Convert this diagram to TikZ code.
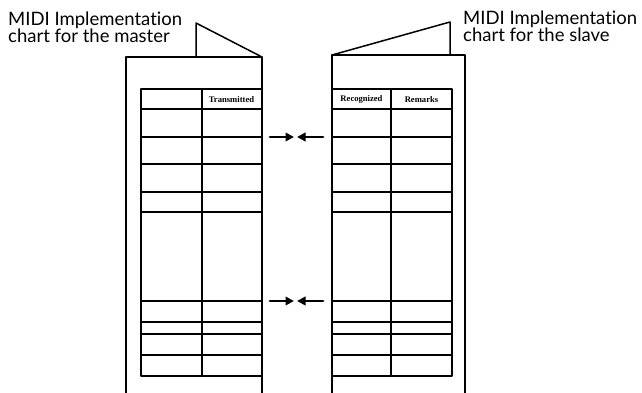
\documentclass[tikz,border=0pt]{standalone}
\usepackage{fontspec}
\usetikzlibrary{arrows.meta}
\newfontfamily\titlefont[Ligatures=NoCommon]{Lato}
\newfontfamily\headfont{Liberation Serif}

\begin{document}
\begin{tikzpicture}[x=1pt,y=-1pt,line cap=round,line join=round,
  page/.style={black,line width=1.5pt},
  grid/.style={black,line width=1.8pt},
  title/.style={font=\titlefont\fontsize{18.5}{16.6}\selectfont,align=left,anchor=base west,inner sep=0pt},
  colhead/.style={font=\headfont\fontsize{8.6}{9}\selectfont\bfseries,inner sep=0pt},
  link/.style={-{Triangle[length=8.5pt,width=8.5pt]},line width=2.8pt}]
\useasboundingbox (0,0) rectangle (642,393);
% master chart
\begin{scope}
\node[title] (mastertitle) at (8,43) {MIDI Implementation\\chart for the master};
\draw[page] (126,393) -- (126,57) -- (262,57) -- (262,393);
\draw[page] (196,57) -- (196,23) -- (262,57);
\draw[grid] (141,89) rectangle (262,376);
\draw[grid] (202,89) -- (202,376);
\draw[grid] (141,109) -- (262,109);
\draw[grid] (141,137) -- (262,137);
\draw[grid] (141,164) -- (262,164);
\draw[grid] (141,192) -- (262,192);
\draw[grid] (141,212) -- (262,212);
\draw[grid] (141,301) -- (262,301);
\draw[grid] (141,322) -- (262,322);
\draw[grid] (141,334) -- (262,334);
\draw[grid] (141,355) -- (262,355);
\node[colhead] (transmitted) at (231.5,99.5) {Transmitted};
\end{scope}
% slave chart
\begin{scope}
\node[title] (slavetitle) at (463,42) {MIDI Implementation\\chart for the slave};
\draw[page] (332,393) -- (332,55) -- (465,55) -- (465,393);
\draw[page] (332,55) -- (450,22) -- (450,55);
\draw[grid] (332,89) rectangle (452,376);
\draw[grid] (391,89) -- (391,376);
\draw[grid] (332,109) -- (452,109);
\draw[grid] (332,137) -- (452,137);
\draw[grid] (332,164) -- (452,164);
\draw[grid] (332,192) -- (452,192);
\draw[grid] (332,212) -- (452,212);
\draw[grid] (332,301) -- (452,301);
\draw[grid] (332,322) -- (452,322);
\draw[grid] (332,334) -- (452,334);
\draw[grid] (332,355) -- (452,355);
\node[colhead] (recognized) at (361.5,99.5) {Recognized};
\node[colhead] (remarks) at (421.5,99.5) {Remarks};
\end{scope}
% arrows between the charts
\coordinate (outA) at (270,137);
\coordinate (inA) at (294,137);
\coordinate (outB) at (323,137);
\coordinate (inB) at (297,137);
\coordinate (outC) at (270,301);
\coordinate (inC) at (294,301);
\coordinate (outD) at (323,301);
\coordinate (inD) at (297,301);
\draw[link] (outA) -- (inA);
\draw[link] (outB) -- (inB);
\draw[link] (outC) -- (inC);
\draw[link] (outD) -- (inD);
\end{tikzpicture}
\end{document}
